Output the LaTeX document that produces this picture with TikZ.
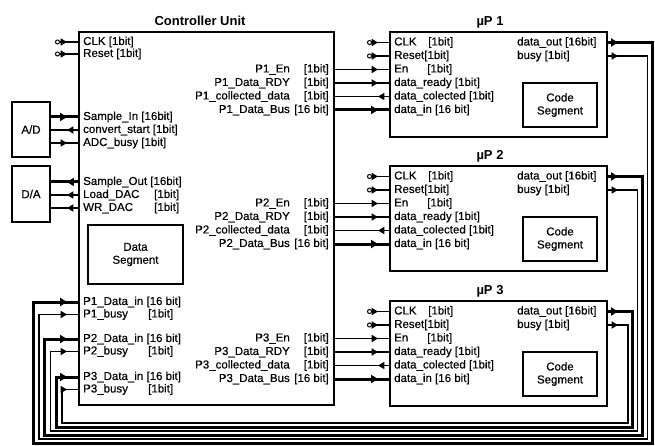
\documentclass[tikz,border=0pt]{standalone}
\usepackage{fontspec}
\setmainfont{Liberation Sans}
\newfontfamily\lblfont[FakeBold=0.4]{Liberation Sans}
\usetikzlibrary{arrows.meta,decorations.markings}

\tikzset{
  sigtip/.tip={Triangle[length=6pt 0.3, width=6.5pt 0.5]},
  ckdot/.tip={Circle[open, length=5pt, width=5pt, line width=1pt]},
}

\begin{document}
\begin{tikzpicture}[x=1pt, y=-1pt,
    lbl/.style={inner sep=0pt, font=\lblfont\fontsize{11.5}{13}\selectfont},
    ttl/.style={inner sep=0pt, font=\bfseries\fontsize{13}{15}\selectfont},
    blk/.style={draw, line width=2pt, inner sep=0pt, font=\lblfont\fontsize{11.5}{13}\selectfont},
    segbox/.style={draw, line width=1.6pt, align=center, inner sep=0pt, font=\lblfont\fontsize{11.5}{13}\selectfont},
    sig/.style={line width=1.2pt},
    bus/.style={line width=3pt},
    fwd/.style={postaction={decorate, decoration={markings, mark=at position -11pt with {\arrow{sigtip}}}}},
    bwd/.style={postaction={decorate, decoration={markings, mark=at position -11pt with {\arrowreversed{sigtip}}}}},
    outa/.style={postaction={decorate, decoration={markings, mark=at position 10pt with {\arrow{sigtip}}}}}]
  \useasboundingbox (0,0) rectangle (655,446);

  % controller, converters, data segment
  \node[blk, minimum width=255pt, minimum height=373pt] (cu) at (206.5,218.5) {};
  \node[ttl] (cut) at (200,21) {Controller Unit};
  \node[blk, minimum width=38pt, minimum height=55pt] (ad) at (31,129.5) {A/D};
  \node[blk, minimum width=38pt, minimum height=56pt] (da) at (31,194) {D/A};
  \node[segbox, minimum width=95pt, minimum height=59pt] (ds) at (135.5,254.5) {Data\\Segment};

  % left side of the controller
  \node[lbl, anchor=west] (cclk) at (83,42) {CLK [1bit]};
  \node[lbl, anchor=west] (crst) at (83,54) {Reset [1bit]};
  \node[lbl, anchor=west] (csin) at (83,117) {Sample\_In [16bit]};
  \node[lbl, anchor=west] (cconv) at (83,130) {convert\_start [1bit]};
  \node[lbl, anchor=west] (cbusy) at (83,143) {ADC\_busy [1bit]};
  \node[lbl, anchor=west] (csout) at (83,182) {Sample\_Out [16bit]};
  \node[lbl, anchor=west] (cload) at (83,195) {\makebox[71pt][l]{Load\_DAC}[1bit]};
  \node[lbl, anchor=west] (cwr) at (83,208) {\makebox[71pt][l]{WR\_DAC}[1bit]};

  \coordinate (xc) at (55,0);
  \coordinate (xin) at (367,0);
  \draw[sig, ckdot-, fwd] (cclk -| xc) -- (cclk -| cu.west);
  \draw[sig, ckdot-, fwd] (crst -| xc) -- (crst -| cu.west);
  \draw[bus, fwd] (csin -| ad.east) -- (csin -| cu.west);
  \draw[sig, bwd] (cconv -| ad.east) -- (cconv -| cu.west);
  \draw[sig, fwd] (cbusy -| ad.east) -- (cbusy -| cu.west);
  \draw[bus, bwd] (csout -| da.east) -- (csout -| cu.west);
  \draw[sig, bwd] (cload -| da.east) -- (cload -| cu.west);
  \draw[sig, bwd] (cwr -| da.east) -- (cwr -| cu.west);

  % the three processors and their links
  \foreach \i/\t/\yi/\xr/\yb/\xl in {1/32/302/652/443/33, 2/166/339/642.4/435/44.5, 3/301/377/632.8/427/56} {
    \node[blk, minimum width=217pt, minimum height=105pt] (p\i) at (498.5,\t+52.5) {};
    \node[ttl] (pt\i) at (490,\t-9.5) {µP \i};
    \node[lbl, anchor=west] (pclk\i) at (394,\t+10.5) {\makebox[34pt][l]{CLK}[1bit]};
    \node[lbl, anchor=west] (prst\i) at (394,\t+24) {Reset[1bit]};
    \node[lbl, anchor=west] (pen\i) at (394,\t+37.5) {\makebox[33pt][l]{En}[1bit]};
    \node[lbl, anchor=west] (prdy\i) at (394,\t+51) {data\_ready [1bit]};
    \node[lbl, anchor=west] (pcol\i) at (394,\t+64.5) {data\_colected [1bit]};
    \node[lbl, anchor=west] (pdin\i) at (394,\t+78) {data\_in [16 bit]};
    \node[lbl, anchor=west] (pdout\i) at (517,\t+10.5) {data\_out [16bit]};
    \node[lbl, anchor=west] (pbsy\i) at (517,\t+24) {busy [1bit]};
    \node[segbox, minimum width=74pt, minimum height=44pt] (cs\i) at (560,\t+73) {Code\\Segment};

    \node[lbl, anchor=east] (cen\i) at (329,\t+37.5) {P\i\_En\makebox[39pt][r]{[1bit]}};
    \node[lbl, anchor=east] (crdy\i) at (329,\t+51) {P\i\_Data\_RDY\makebox[39pt][r]{[1bit]}};
    \node[lbl, anchor=east] (ccol\i) at (329,\t+64.5) {P\i\_collected\_data\makebox[39pt][r]{[1bit]}};
    \node[lbl, anchor=east] (cbus\i) at (329,\t+78) {P\i\_Data\_Bus\makebox[39pt][r]{[16 bit]}};
    \node[lbl, anchor=west] (cdin\i) at (83,\yi) {P\i\_Data\_in [16 bit]};
    \node[lbl, anchor=west] (cbsy\i) at (83,\yi+12.5) {\makebox[65pt][l]{P\i\_busy}[1bit]};

    \draw[sig, ckdot-, fwd] (pclk\i -| xin) -- (pclk\i -| p\i.west);
    \draw[sig, ckdot-, fwd] (prst\i -| xin) -- (prst\i -| p\i.west);
    \draw[sig, fwd] (cen\i -| cu.east) -- (pen\i -| p\i.west);
    \draw[sig, fwd] (crdy\i -| cu.east) -- (prdy\i -| p\i.west);
    \draw[sig, bwd] (ccol\i -| cu.east) -- (pcol\i -| p\i.west);
    \draw[bus, fwd] (cbus\i -| cu.east) -- (pdin\i -| p\i.west);

    % results back to the controller
    \draw[bus, outa, fwd] (pdout\i -| p\i.east) -| (\xr,\yb) -- (\xl,\yb) |- (cdin\i -| cu.west);
    \draw[sig, outa, fwd] (pbsy\i -| p\i.east) -| ({\xr-4.8},{\yb-4}) -- ({\xl+6},{\yb-4}) |- (cbsy\i -| cu.west);
  }
\end{tikzpicture}
\end{document}
